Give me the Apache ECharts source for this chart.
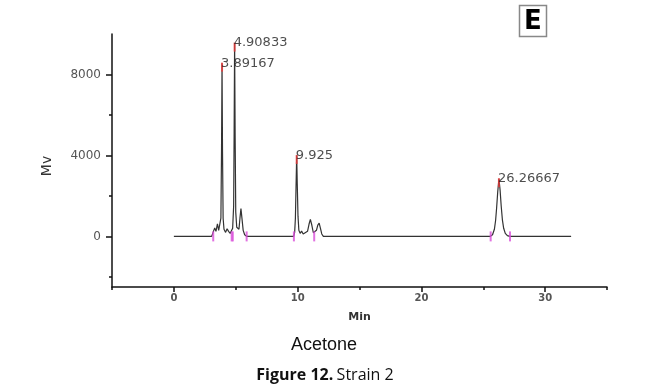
<!DOCTYPE html>
<html>
<head>
<meta charset="utf-8">
<script src="https://cdn.jsdelivr.net/npm/echarts@6/dist/echarts.min.js"></script>
<style>html,body{margin:0;padding:0;background:#fff}#c{width:667px;height:387px}</style>
</head>
<body>
<div id="c"></div>
<script>
// Chromatogram trace (time in min, signal in Mv)
var curveTime = [0, 3.05, 3.2, 3.3, 3.4, 3.52, 3.62, 3.72, 3.8, 3.85, 3.89167, 3.93, 3.98, 4.05, 4.18, 4.3, 4.42, 4.55, 4.65, 4.75, 4.83, 4.87, 4.90833, 4.95, 5.0, 5.08, 5.18, 5.26, 5.34, 5.42, 5.5, 5.6, 5.72, 5.9,
  9.68, 9.76, 9.82, 9.87, 9.925, 9.97, 10.03, 10.1, 10.2, 10.32, 10.45, 10.6, 10.8, 10.92, 11.03, 11.15, 11.27, 11.4, 11.52, 11.63, 11.74, 11.85, 11.95, 12.08,
  25.55, 25.75, 25.9, 26.0, 26.08, 26.17, 26.267, 26.36, 26.45, 26.55, 26.65, 26.78, 26.95, 27.15, 32.1];
var curveSignal = [0, 0, 60, 420, 250, 620, 300, 250, 900, 4200, 8560, 4200, 900, 350, 200, 380, 250, 150, 120, 400, 1500, 5200, 9550, 5000, 1200, 450, 420, 350, 900, 1370, 900, 300, 80, 0,
  0, 200, 900, 2400, 4000, 2600, 1000, 300, 150, 260, 120, 100, 250, 600, 840, 550, 180, 120, 300, 560, 660, 380, 120, 0,
  0, 80, 350, 800, 1400, 2200, 2850, 2300, 1500, 800, 400, 150, 40, 0, 0];
var peakTimes = [3.89167, 4.90833, 9.925, 26.26667];
var peakHeights = [8560, 9550, 4000, 2850];
var peakLabels = ['3.89167', '4.90833', '9.925', '26.26667'];
var boundaryTimes = [3.18, 4.67, 4.76, 5.88, 9.7, 11.34, 25.6, 27.16];
var xMajorTicks = [0, 10, 20, 30];
var xMinorTicks = [-5, 5, 15, 25, 35];
var yMajorTicks = [0, 4000, 8000];
var yMinorTicks = [-2000, 2000, 6000];

var chart = echarts.init(document.getElementById('c'));
var trace = curveTime.map(function (t, i) { return [t, curveSignal[i]]; });
var peaks = peakTimes.map(function (t, i) { return { value: [t, peakHeights[i]], name: peakLabels[i] }; });
var bounds = boundaryTimes.map(function (t) { return [t, 0]; });
var plain = function (v) { return String(v); };

var xBase = { type: 'value', min: -5, max: 35, gridIndex: 0, position: 'bottom', splitLine: { show: false } };
var yBase = { type: 'value', min: -2500, max: 10000, gridIndex: 0, position: 'left', splitLine: { show: false } };

chart.setOption({
  animation: false,
  grid: { left: 112, right: 60, top: 34, bottom: 100 },
  xAxis: [
    Object.assign({}, xBase, {
      axisLine: { show: true, onZero: false, lineStyle: { color: '#111', width: 1.5 } },
      axisTick: { show: true, customValues: xMajorTicks, length: 5, lineStyle: { color: '#111', width: 1.5 } },
      axisLabel: { customValues: xMajorTicks, formatter: plain, margin: 6, color: '#555', fontSize: 10, fontWeight: 'bold', fontFamily: 'DejaVu Sans' },
      name: 'Min', nameLocation: 'middle', nameGap: 25,
      nameTextStyle: { color: '#333', fontSize: 11, fontWeight: 'bold', fontFamily: 'DejaVu Sans' }
    }),
    Object.assign({}, xBase, {
      axisLine: { show: false, onZero: false },
      axisTick: { show: true, customValues: xMinorTicks, length: 3, lineStyle: { color: '#111', width: 1.5 } },
      axisLabel: { show: false }
    })
  ],
  yAxis: [
    Object.assign({}, yBase, {
      axisLine: { show: true, onZero: false, lineStyle: { color: '#111', width: 1.5 } },
      axisTick: { show: true, customValues: yMajorTicks, length: 6, lineStyle: { color: '#111', width: 1.5 } },
      axisLabel: { customValues: yMajorTicks, formatter: plain, margin: 11, color: '#555', fontSize: 12, fontFamily: 'DejaVu Sans' }
    }),
    Object.assign({}, yBase, {
      axisLine: { show: false, onZero: false },
      axisTick: { show: true, customValues: yMinorTicks, length: 3, lineStyle: { color: '#111', width: 1.5 } },
      axisLabel: { show: false }
    })
  ],
  series: [
    {
      type: 'line', data: trace, xAxisIndex: 0, yAxisIndex: 0, showSymbol: false, smooth: false,
      lineStyle: { color: '#333', width: 1.2 }, z: 2
    },
    {
      type: 'scatter', data: bounds, xAxisIndex: 0, yAxisIndex: 0, symbol: 'rect', symbolSize: [2, 10],
      itemStyle: { color: '#d94fd9' }, z: 3
    },
    {
      type: 'scatter', data: peaks, xAxisIndex: 0, yAxisIndex: 0, symbol: 'rect', symbolSize: [2, 9], symbolOffset: [0, 4],
      itemStyle: { color: '#e83a3a' }, z: 4
    },
    {
      type: 'scatter', data: peaks, xAxisIndex: 0, yAxisIndex: 0, symbol: 'circle', symbolSize: 0.1,
      itemStyle: { color: 'rgba(0,0,0,0)' }, z: 5,
      label: { show: true, position: 'right', distance: -1, formatter: function (p) { return p.name; },
        color: '#222', fontSize: 13, fontFamily: 'DejaVu Sans' }
    }
  ],
  graphic: [
    { type: 'text', x: 47, y: 166, rotation: Math.PI / 2,
      style: { text: 'Mv', fill: '#333', fontSize: 14, fontFamily: 'DejaVu Sans', align: 'center', verticalAlign: 'middle' } },
    { type: 'text', x: 324, y: 345,
      style: { text: 'Acetone', fill: '#111', fontSize: 18, fontFamily: 'Liberation Sans', align: 'center', verticalAlign: 'middle' } },
    { type: 'text', x: 325, y: 375,
      style: { text: '{b|Figure 12.} {r|Strain 2}', align: 'center', verticalAlign: 'middle',
        rich: { b: { fontSize: 16, fontWeight: 'bold', fill: '#111', fontFamily: 'Open Sans' },
                r: { fontSize: 16, fill: '#111', fontFamily: 'Open Sans' } } } },
    { type: 'rect', shape: { x: 519.5, y: 5.5, width: 27, height: 31 },
      style: { fill: '#fff', stroke: '#888', lineWidth: 1.5 } },
    { type: 'text', x: 533, y: 22,
      style: { text: 'E', fill: '#000', fontSize: 26, fontWeight: 'bold', fontFamily: 'DejaVu Sans', align: 'center', verticalAlign: 'middle' } }
  ]
});
</script>
</body>
</html>
